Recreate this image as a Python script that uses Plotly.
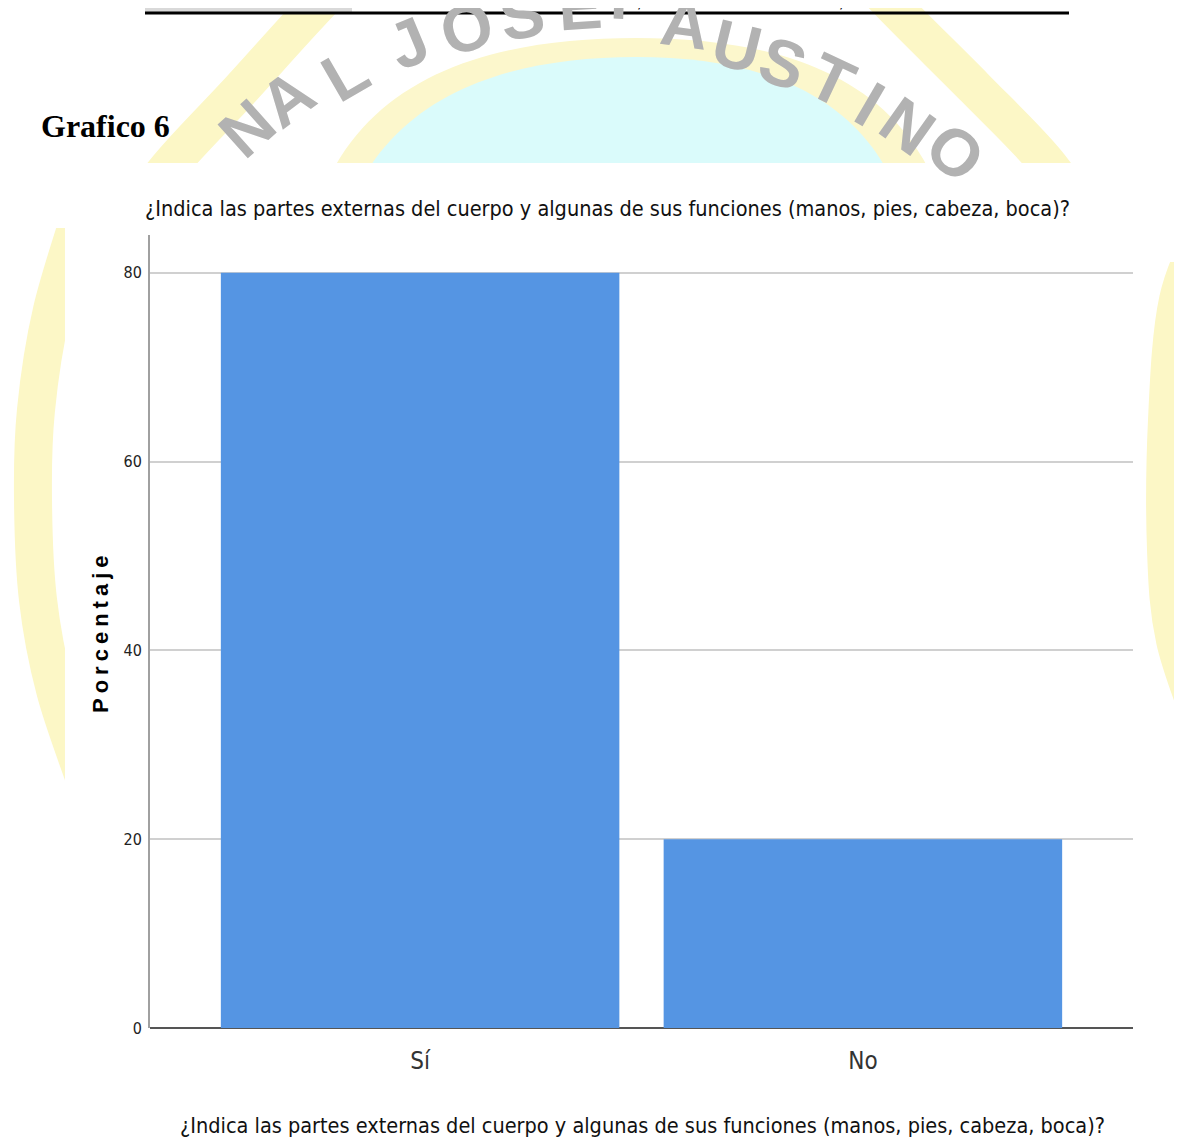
import math

import plotly.graph_objects as go

# ---- data -------------------------------------------------------------
categories = ["Sí", "No"]
percentages = [80.0, 20.0]
y_ticks = [0, 20, 40, 60, 80]

question = ("¿Indica las partes externas del cuerpo y algunas de sus "
            "funciones (manos, pies, cabeza, boca)?")
figure_label = "Grafico 6"
table_tail = ["Total", "30", "100,0", "100,0"]

NARROW = "DejaVu Sans Condensed, Liberation Sans, sans-serif"
SANS = "Liberation Sans, Arial, sans-serif"

# ---- page geometry (pixels of the browser window) ----------------------
# the page body has an 8px margin, so the figure starts at (8, 8)
OFF = 8
W, H = 1182, 1144
PLOT_L, PLOT_R, PLOT_T, PLOT_B = 150, 1133, 235, 1028
ML, MT = PLOT_L - OFF, PLOT_T - OFF
MR, MB = W - (PLOT_R - OFF), H - (PLOT_B - OFF)
PW, PH = PLOT_R - PLOT_L, PLOT_B - PLOT_T


def px(x, y):
    """window pixel position -> paper coordinates"""
    return (x - PLOT_L) / PW, (PLOT_B - y) / PH


def path_from(points, close=False):
    parts = []
    for i, (x, y) in enumerate(points):
        xp, yp = px(x, y)
        parts.append(("M" if i == 0 else "L") + f"{xp:.4f},{yp:.4f}")
    return " ".join(parts) + (" Z" if close else "")


def smooth_path(points):
    # Catmull-Rom through the pixel points, written as cubic Beziers
    pts = [points[0]] + list(points) + [points[-1]]
    xp, yp = px(*points[0])
    out = [f"M{xp:.4f},{yp:.4f}"]
    for i in range(1, len(pts) - 2):
        p0, p1, p2, p3 = pts[i - 1], pts[i], pts[i + 1], pts[i + 2]
        c1 = (p1[0] + (p2[0] - p0[0]) / 6, p1[1] + (p2[1] - p0[1]) / 6)
        c2 = (p2[0] - (p3[0] - p1[0]) / 6, p2[1] - (p3[1] - p1[1]) / 6)
        seg = [px(*p) for p in (c1, c2, p2)]
        out.append("C" + " ".join(f"{a:.4f},{b:.4f}" for a, b in seg))
    return " ".join(out)


def bezier_path(segments):
    # start point followed by (c1, c2, end) triples, in pixels
    start, rest = segments[0], segments[1:]
    xp, yp = px(*start)
    out = [f"M{xp:.4f},{yp:.4f}"]
    for c1, c2, end in rest:
        pts = [px(*p) for p in (c1, c2, end)]
        out.append("C" + " ".join(f"{a:.4f},{b:.4f}" for a, b in pts))
    return " ".join(out) + " Z"


fig = go.Figure()

fig.add_trace(
    go.Bar(
        x=categories,
        y=percentages,
        width=0.9,
        marker={"color": "#5595E3", "line": {"width": 0}},
        hovertemplate="%{x}: %{y:.1f}%<extra></extra>",
    )
)

shapes = []

# watermark of the scanned page: yellow rings, cyan disc, grey lettering
shapes.append(dict(
    type="path", xref="paper", yref="paper", layer="below",
    path=bezier_path([(300, 320), ((300, 100), (450, 38), (636, 38)),
                      ((820, 38), (960, 100), (960, 320))]),
    fillcolor="#fcf7cc", line={"width": 0},
))
shapes.append(dict(
    type="path", xref="paper", yref="paper", layer="below",
    path=bezier_path([(330, 320), ((330, 120), (470, 57), (636, 57)),
                      ((800, 57), (920, 120), (920, 320))]),
    fillcolor="#dafbfb", line={"width": 0},
))
wm_arcs = [
    [(380, -60), (310, 13), (240, 90), (172, 163), (120, 230)],
    [(830, -60), (900, 13), (975, 88), (1047, 163), (1100, 240)],
    [(85, 200), (52, 310), (36, 410), (33, 500), (38, 600), (55, 690),
     (85, 780)],
    [(1210, 220), (1178, 300), (1167, 420), (1166, 550), (1175, 640),
     (1205, 730)],
]
for pts in wm_arcs:
    shapes.append(dict(
        type="path", xref="paper", yref="paper", layer="below",
        path=smooth_path(pts), line={"color": "#fcf7c6", "width": 38},
    ))

# white background of the pasted chart image
shapes.append(dict(
    type="path", xref="paper", yref="paper", layer="below",
    path=path_from([(-20, 163), (1200, 163), (1200, 262), (1143, 262),
                    (1143, 1170), (65, 1170), (65, 228), (-20, 228)],
                   close=True),
    fillcolor="white", line={"width": 0},
))

# remnant of the table above the figure
gx0, gy0 = px(145, -5)
gx1, gy1 = px(352, 12)
shapes.append(dict(type="rect", xref="paper", yref="paper", layer="above",
                   x0=gx0, y0=gy0, x1=gx1, y1=gy1,
                   fillcolor="#d9d9d9", line={"width": 0}))
lx0, ly = px(145, 13)
lx1, _ = px(1069, 13)
shapes.append(dict(type="line", xref="paper", yref="paper", layer="above",
                   x0=lx0, y0=ly, x1=lx1, y1=ly,
                   line={"color": "black", "width": 3}))

annotations = []

wm_letters = ["N", "A", "L", "J", "O", "S", "E", "F", "A", "U", "S",
              "T", "I", "N", "O"]
wm_pos = [(247, 128), (287, 98), (345, 74), (408, 43),
          (466, 28), (522, 15), (580, 6), (630, -4), (685, 24), (737, 46),
          (783, 63), (832, 80), (870, 104), (908, 126), (955, 152)]
cx, cy = 615, 540
for ch, (x, y) in zip(wm_letters, wm_pos):
    xp, yp = px(x, y)
    ang = math.degrees(math.atan2(x - cx, cy - y))
    annotations.append(dict(
        x=xp, y=yp, xref="paper", yref="paper", text=f"<b>{ch}</b>",
        showarrow=False, textangle=ang, xanchor="center", yanchor="middle",
        font={"family": SANS, "size": 66, "color": "#b2b2b2"},
    ))

for txt, x in zip(table_tail, [290, 494, 628, 830]):
    xp, yp = px(x, 0)
    annotations.append(dict(
        x=xp, y=yp, xref="paper", yref="paper", text=txt, showarrow=False,
        xanchor="center", yanchor="middle",
        font={"family": SANS, "size": 20, "color": "black"},
    ))

xp, yp = px(39, 126)
annotations.append(dict(
    x=xp, y=yp, xref="paper", yref="paper", text=f"<b>{figure_label}</b>",
    showarrow=False, xanchor="left", yanchor="middle",
    font={"family": "Liberation Serif, serif", "size": 32, "color": "black"},
))

for (qx, qy) in [(607, 209), (642, 1125)]:
    xp, yp = px(qx, qy)
    annotations.append(dict(
        x=xp, y=yp, xref="paper", yref="paper", text=question,
        showarrow=False, xanchor="center", yanchor="middle",
        font={"family": NARROW, "size": 21.5, "color": "#111111"},
    ))

xp, yp = px(100, 632)
annotations.append(dict(
    x=xp, y=yp, xref="paper", yref="paper",
    text='<b><span style="letter-spacing:5px">Porcentaje</span></b>',
    showarrow=False, textangle=-90, xanchor="center", yanchor="middle",
    font={"family": SANS, "size": 22, "color": "black"},
))

fig.update_layout(
    width=W, height=H,
    margin={"l": ML, "r": MR, "t": MT, "b": MB, "pad": 0},
    paper_bgcolor="white", plot_bgcolor="white",
    showlegend=False,
    shapes=shapes, annotations=annotations,
    xaxis={
        "range": [-0.61, 1.61],
        "showgrid": False, "zeroline": False,
        "showline": False, "ticks": "",
        "ticklabelstandoff": 16,
        "tickfont": {"family": NARROW, "size": 24, "color": "#333333"},
    },
    yaxis={
        "range": [0, 84],
        "tickvals": y_ticks,
        "showgrid": True, "gridcolor": "#d0d0d0", "gridwidth": 2,
        "zeroline": True, "zerolinecolor": "#555555", "zerolinewidth": 2,
        "showline": True, "linecolor": "#a0a0a0", "linewidth": 2,
        "ticks": "", "ticklabelstandoff": 3,
        "tickfont": {"family": NARROW, "size": 16, "color": "#222222"},
    },
)

fig.write_html("out.html")
